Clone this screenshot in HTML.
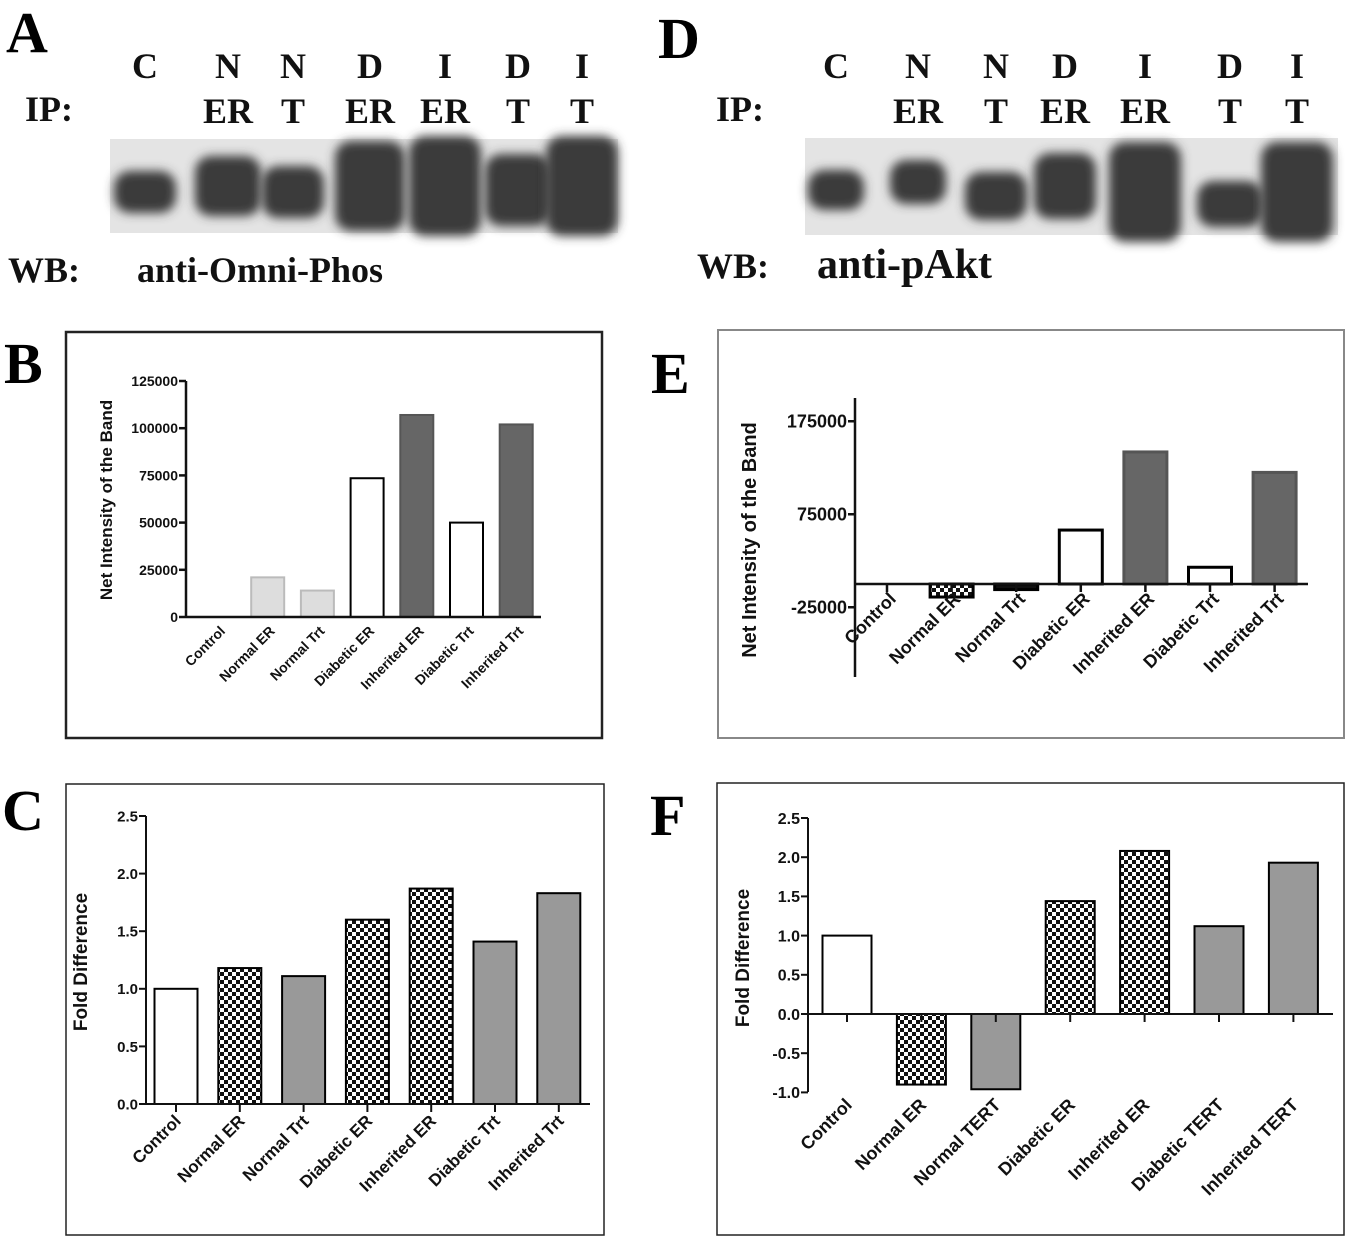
<!DOCTYPE html>
<html><head><meta charset="utf-8"><style>
html,body{margin:0;padding:0;background:#fff;}
svg{display:block;font-family:"Liberation Sans",sans-serif;}
.ser{font-family:"Liberation Serif",serif;font-weight:bold;}
</style></head><body>
<svg id="fig" width="1348" height="1238" viewBox="0 0 1348 1238">
<defs>
<pattern id="chk" width="8" height="8" patternUnits="userSpaceOnUse"><rect width="8" height="8" fill="#fff"/><rect width="4" height="4" fill="#111"/><rect x="4" y="4" width="4" height="4" fill="#111"/></pattern>
<filter id="blur" x="-30%" y="-30%" width="160%" height="160%"><feGaussianBlur stdDeviation="5"/></filter>
</defs>
<g class="ser">
<text x="6" y="52" font-size="58">A</text>
<text x="658" y="58" font-size="58">D</text>
<text x="4" y="383" font-size="58">B</text>
<text x="651" y="393" font-size="58">E</text>
<text x="2" y="830" font-size="58">C</text>
<text x="650" y="835" font-size="58">F</text>
</g>
<g id="blots"></g>
<rect x="66" y="332" width="536" height="406" fill="none" stroke="#222" stroke-width="2.5"/>
<rect x="718" y="330" width="626" height="408" fill="none" stroke="#888" stroke-width="2"/>
<rect x="66" y="784" width="538" height="451" fill="none" stroke="#222" stroke-width="1.5"/>
<rect x="717" y="783" width="627" height="452" fill="none" stroke="#222" stroke-width="1.5"/>
<g id="charts"></g>
</svg>
<script>
const NS="http://www.w3.org/2000/svg";
// ---- chart data ----
const catsB=["Control","Normal ER","Normal Trt","Diabetic ER","Inherited ER","Diabetic Trt","Inherited Trt"];
const valsB=[0,21000,14000,73500,107000,50000,102000];
const ticksB=[0,25000,50000,75000,100000,125000];
const catsE=["Control","Normal ER","Normal Trt","Diabetic ER","Inherited ER","Diabetic Trt","Inherited Trt"];
const valsE=[0,-14000,-6000,58000,142000,18000,120000];
const ticksE=[-25000,75000,175000];
const catsC=["Control","Normal ER","Normal Trt","Diabetic ER","Inherited ER","Diabetic Trt","Inherited Trt"];
const valsC=[1.0,1.18,1.11,1.6,1.87,1.41,1.83];
const ticksC=["0.0","0.5","1.0","1.5","2.0","2.5"];
const catsF=["Control","Normal ER","Normal TERT","Diabetic ER","Inherited ER","Diabetic TERT","Inherited TERT"];
const valsF=[1.0,-0.9,-0.96,1.44,2.08,1.12,1.93];
const ticksF=["-1.0","-0.5","0.0","0.5","1.0","1.5","2.0","2.5"];
const fillsB=["#fff","#ddd","#ddd","#fff","#666","#fff","#666"];
const fillsE=["#fff","url(#chk)","#111","#fff","#666","#fff","#666"];
const fillsC=["#fff","url(#chk)","#999","url(#chk)","url(#chk)","#999","#999"];
const fillsF=["#fff","url(#chk)","#999","url(#chk)","url(#chk)","#999","#999"];

function mk(tag,attrs,parent){const e=document.createElementNS(NS,tag);for(const k in attrs)e.setAttribute(k,attrs[k]);parent.appendChild(e);return e;}
const charts=document.getElementById('charts');

function chart(o,cats,vals,ticks,fills){
  const g=mk('g',{},charts);
  
  
  const y=v=>o.y0-(v-0)*o.ppu;
  const x=i=>o.c0+i*o.step;
  vals.forEach((v,i)=>{
    const top=Math.min(y(v),y(0)),h=Math.abs(y(v)-y(0));
    if(h<0.5)return;
    const r=mk('rect',{x:x(i)-o.bw/2,y:top,width:o.bw,height:h,fill:fills[i],stroke:fills[i]=="#666"?"#555":(fills[i]=="#ddd"?"#bbb":"#000"),"stroke-width":o.sw},g);
    
    
  });
  const ya=mk('line',{x1:o.ax,x2:o.ax,y1:o.yTop,y2:o.yBot,stroke:"#111","stroke-width":o.aw},g);
  
  const xa=mk('line',{x1:o.ax,x2:o.xEnd,y1:y(0),y2:y(0),stroke:"#111","stroke-width":o.aw},g);
  
  ticks.forEach(t=>{
    const v=parseFloat(t);
    mk('line',{x1:o.ax-7,x2:o.ax,y1:y(v),y2:y(v),stroke:"#111","stroke-width":o.aw},g);
    const tx=mk('text',{x:o.ax-8,y:y(v)+o.tf*0.36,"font-size":o.tf,"font-weight":"bold","text-anchor":"end",fill:"#111"},g);
    tx.textContent=t;
    
  });
  cats.forEach((c,i)=>{
    if(o.xticks)mk('line',{x1:x(i),x2:x(i),y1:y(0),y2:y(0)+8,stroke:"#111","stroke-width":o.aw},g);
    const lx=x(i)+o.lx, ly=o.ly;
    const tx=mk('text',{x:lx,y:ly,"font-size":o.lf,"font-weight":"bold","text-anchor":"end",fill:"#111",transform:`rotate(-45 ${lx} ${ly})`},g);
    tx.textContent=c;
    
  });
  const tt=mk('text',{x:o.tx,y:o.ty,"font-size":o.titf,"font-weight":"bold","text-anchor":"middle",fill:"#111",transform:`rotate(-90 ${o.tx} ${o.ty})`},g);
  tt.textContent=o.title;
  
}
chart({name:'chart-b',y0:617,ppu:236/125000,c0:218,step:49.7,bw:33,sw:2,ax:186,yTop:381,yBot:617,xEnd:541,aw:2.5,tf:14,lf:14,lx:8,ly:632,xticks:false,tx:112,ty:500,titf:17,title:"Net Intensity of the Band"},catsB,valsB,ticksB,fillsB);
chart({name:'chart-e',y0:584,ppu:93/100000,c0:887,step:64.6,bw:43,sw:3,ax:855,yTop:398,yBot:677,xEnd:1308,aw:2.5,tf:18,lf:18,lx:10,ly:600,xticks:true,tx:756,ty:540,titf:20,title:"Net Intensity of the Band"},catsE,valsE,ticksE,fillsE);
chart({name:'chart-c',y0:1104,ppu:57.6/0.5,c0:176,step:63.8,bw:43,sw:2,ax:146,yTop:816,yBot:1104,xEnd:590,aw:2,tf:15,lf:17,lx:6,ly:1122,xticks:true,tx:87,ty:962,titf:19,title:"Fold Difference"},catsC,valsC,ticksC,fillsC);
chart({name:'chart-f',y0:1014,ppu:39.2/0.5,c0:847,step:74.4,bw:49,sw:2,ax:808,yTop:818,yBot:1092,xEnd:1333,aw:2,tf:16,lf:18,lx:6,ly:1106,xticks:true,tx:749,ty:958,titf:19,title:"Fold Difference"},catsF,valsF,ticksF,fillsF);

// ---- blots ----
const blots=document.getElementById('blots');
function blot(name,bx,by,bw,bh,lanesX,lanesCY,lanesH,lanesW,labelsTop,labelsBot,ipX,wbX,wbY,antiX,antiText,antiSize){
  const g=mk('g',{},blots);
  
  const bg=mk('rect',{x:bx,y:by,width:bw,height:bh,fill:"#e4e4e4"},g);
  
  const cl=mk('g',{},g);
  lanesX.forEach((lx,i)=>{
    const e=mk('rect',{x:lx-lanesW[i]/2,y:lanesCY[i]-lanesH[i]/2,width:lanesW[i],height:lanesH[i],rx:16,fill:"#3a3a3a",filter:"url(#blur)"},cl);
    
    const t1=mk('text',{x:lx,y:78,"font-size":36,"text-anchor":"middle",class:"ser",fill:"#111"},g);t1.textContent=labelsTop[i];
    
    const t2=mk('text',{x:lx,y:123,"font-size":36,"text-anchor":"middle",class:"ser",fill:"#111"},g);t2.textContent=labelsBot[i];
    
  });
  const ip=mk('text',{x:ipX,y:121,"font-size":36,class:"ser",fill:"#111"},g);ip.textContent="IP:";
  
  const wb=mk('text',{x:wbX,y:wbY,"font-size":36,class:"ser",fill:"#111"},g);wb.textContent="WB:";
  
  const an=mk('text',{x:antiX,y:wbY,"font-size":antiSize,class:"ser",fill:"#111"},g);an.textContent=antiText;
  
}
blot('blot-a',110,139,508,94,[145,228,293,370,445,518,582],[192,186,192,186,186,190,186],[42,60,52,90,100,72,100],[62,66,62,70,72,66,72],
 ["C","N","N","D","I","D","I"],["","ER","T","ER","ER","T","T"],25,8,282,137,"anti-Omni-Phos",36);
blot('blot-d',805,138,533,97,[836,918,996,1065,1145,1230,1297],[190,182,196,186,192,204,192],[40,44,48,66,100,46,100],[56,56,62,62,72,66,72],
 ["C","N","N","D","I","D","I"],["","ER","T","ER","ER","T","T"],716,697,278,817,"anti-pAkt",42);
</script>
</body></html>
